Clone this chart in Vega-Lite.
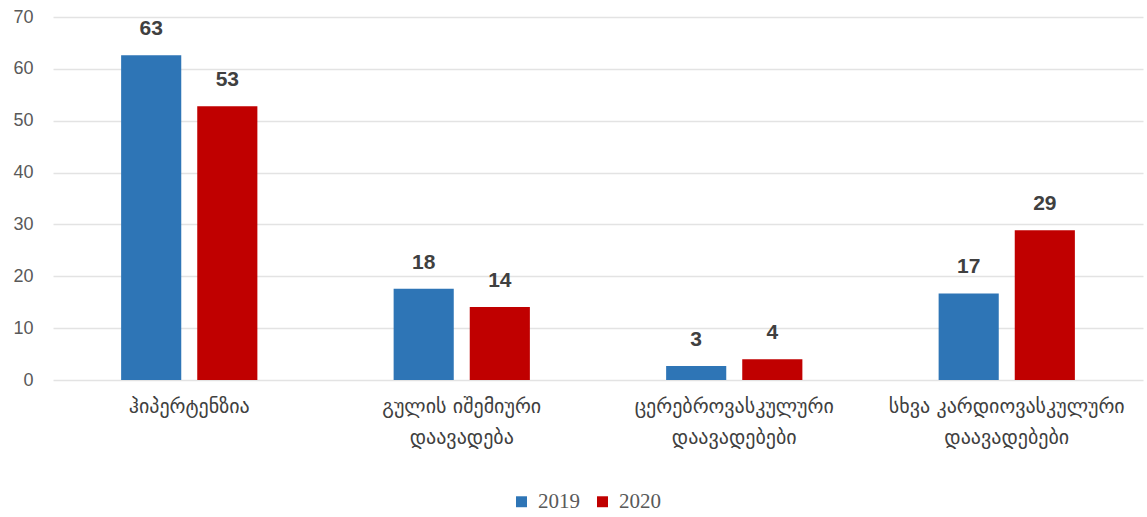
{
  "$schema": "https://vega.github.io/schema/vega-lite/v6.json",
  "width": 1090,
  "height": 363,
  "autosize": {"type": "none"},
  "padding": {"left": 53, "top": 17, "right": 4, "bottom": 137},
  "background": "white",
  "config": {"view": {"stroke": null}},
  "data": {
    "values": [
      {"cat": "ჰიპერტენზია", "year": "2019", "value": 62.6},
      {"cat": "ჰიპერტენზია", "year": "2020", "value": 52.8},
      {"cat": "გულის იშემიური|დაავადება", "year": "2019", "value": 17.6},
      {"cat": "გულის იშემიური|დაავადება", "year": "2020", "value": 14.1},
      {"cat": "ცერებროვასკულური|დაავადებები", "year": "2019", "value": 2.7},
      {"cat": "ცერებროვასკულური|დაავადებები", "year": "2020", "value": 4.0},
      {"cat": "სხვა კარდიოვასკულური|დაავადებები", "year": "2019", "value": 16.7},
      {"cat": "სხვა კარდიოვასკულური|დაავადებები", "year": "2020", "value": 28.9}
    ]
  },
  "encoding": {
    "x": {
      "field": "cat", "type": "nominal", "sort": null,
      "scale": {"paddingInner": 0.5, "paddingOuter": 0.25},
      "axis": {
        "title": null, "labelAngle": 0, "domain": false, "ticks": false,
        "labelExpr": "split(datum.label, '|')",
        "labelFont": "DejaVu Sans", "labelFontSize": 20, "labelColor": "#404040",
        "labelLineHeight": 31, "labelPadding": 16, "labelBaseline": "top",
        "labelLimit": 0, "labelOverlap": false
      }
    },
    "xOffset": {"field": "year", "type": "nominal", "scale": {"paddingInner": 0.21, "paddingOuter": 0}},
    "y": {
      "field": "value", "type": "quantitative",
      "scale": {"domain": [0, 70], "nice": false},
      "axis": {
        "title": null, "values": [0, 10, 20, 30, 40, 50, 60, 70],
        "domain": false, "ticks": false, "labelPadding": 20,
        "labelFont": "Liberation Sans", "labelFontSize": 18, "labelColor": "#595959",
        "gridColor": "#e3e3e3", "gridWidth": 1.5
      }
    }
  },
  "layer": [
    {
      "mark": {"type": "bar"},
      "encoding": {
        "color": {
          "field": "year", "type": "nominal",
          "scale": {"domain": ["2019", "2020"], "range": ["#2E75B6", "#C00000"]},
          "legend": {
            "title": null, "orient": "none", "direction": "horizontal",
            "legendX": 458, "legendY": 474,
            "symbolType": "square", "symbolSize": 120, "symbolStrokeWidth": 0,
            "labelFont": "Liberation Serif", "labelFontSize": 21, "labelColor": "#595959",
            "columnPadding": 12, "labelOffset": 6
          }
        }
      }
    },
    {
      "mark": {"type": "text", "baseline": "bottom", "dy": -16, "font": "Liberation Sans", "fontWeight": "bold", "fontSize": 21, "color": "#404040"},
      "encoding": {
        "text": {"field": "value", "type": "quantitative", "format": ".0f"}
      }
    }
  ]
}
